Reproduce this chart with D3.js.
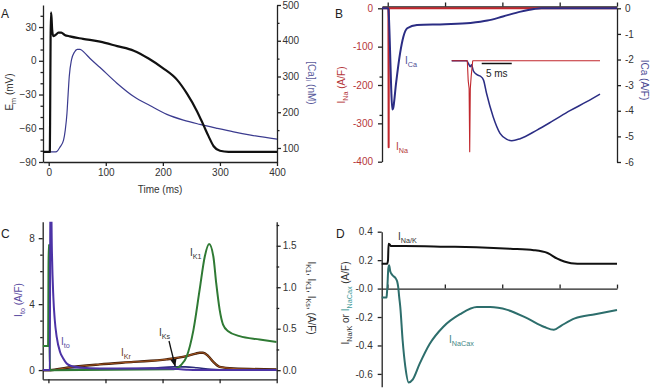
<!DOCTYPE html>
<html>
<head>
<meta charset="utf-8">
<script src="https://cdn.jsdelivr.net/npm/d3@7"></script>
<style>
  body { margin: 0; background: #fff; }
  svg { display: block; font-family: "Liberation Sans", Arial, sans-serif; }
  .axis path, .axis line { stroke: #222; stroke-width: 1.3; }
  .axis text { font-size: 10px; fill: #333; font-family: "Liberation Sans", Arial, sans-serif; }
</style>
</head>
<body>
<svg width="650" height="388"></svg>
<script>
// ---- data: [time (ms), value] ----
var timeTicks = [0, 100, 200, 300, 400];

// panel A
var emTrace = [[-10,-81],[2,-81],[2.6,-40],[3.3,20],[4,43],[5,38],[6,28],[8,22],[12,23],[17,25],[22,25],[28,23],[37,21.7],[60,19.5],[90,17],[120,13],[149,9],[175,2],[200,-6.5],[225,-17],[242,-29],[260,-45],[271,-57],[280,-67],[289,-76],[300,-80],[315,-81],[400,-81]];
var caTrace = [[-10,89],[10,89],[14,90],[20,103],[26,122],[29,150],[32,197],[34,250],[36,300],[40,347],[45,368],[50,376],[55,376],[63,366],[72,351],[90,325],[119,282],[149,244],[178,218],[207,194],[236,178],[265,166],[295,155],[324,145],[354,136],[400,125]];
var emTicks = [-90, -60, -30, 0, 30];
var emMinor = [-80, -70, -50, -40, -20, -10, 10, 20, 40];
var caTicks = [100, 200, 300, 400, 500];
var caMinor = [150, 250, 350, 450];

// panel B
var inaTrace = [[-10,0],[1.2,0],[1.6,-362],[2.0,0],[400,0]];
var icaTrace = [[-10,0],[1,0],[2,-0.3],[4,-1.6],[6,-3.1],[8,-3.95],[9.5,-3.9],[14.5,-2.93],[21.5,-1.76],[27.3,-1.11],[34,-0.78],[51,-0.65],[100,-0.62],[144,-0.57],[174,-0.48],[201,-0.32],[232,-0.13],[255,-0.03],[268,0],[400,0]];
var insetIna = [[0,0],[2.6,0],[2.75,-80],[2.9,-110],[3.0,-360],[3.1,-110],[3.25,-60],[3.5,0],[24.7,0]];
var insetIca = [[0,0],[2.5,0],[2.8,-0.15],[3.1,-0.3],[3.3,-0.2],[3.6,-0.5],[4.2,-0.7],[4.8,-0.78],[5.3,-0.97],[5.8,-1.63],[6.9,-2.8],[8.05,-3.63],[9.2,-3.93],[10,-4.0],[11.4,-3.9],[14.2,-3.47],[16.9,-3.0],[19.7,-2.5],[22.5,-2.05],[24.7,-1.67]];
var naTicks = [-400, -300, -200, -100, 0];
var naMinor = [-178, -278];
var icaTicks = [-6, -5, -4, -3, -2, -1, 0];

// panel C
var itoTrace = [[-10,0],[2.5,0],[3.5,12],[4.2,12],[6,7.5],[8.7,4.4],[11,3.1],[14.6,2.0],[20.4,1.1],[26,0.7],[32,0.4],[40,0.25],[55,0.16],[90,0.1],[150,0.1],[207,0.1],[242,0.02],[260,0],[400,0]];
var ik1Trace = [[-10,0.29],[-0.5,0.29],[0,1.0],[0.4,1.51],[1.2,1.51],[2.0,0.3],[3,0],[220,0.01],[224,0.02],[232,0.06],[242,0.16],[254,0.48],[265,0.97],[274,1.37],[281.6,1.52],[289,1.37],[294,1.05],[300,0.73],[306,0.55],[315,0.47],[335,0.41],[370,0.37],[400,0.34]];
var ikrTrace = [[-10,0],[3,0],[32,0.03],[90,0.07],[149,0.1],[207,0.13],[242,0.17],[258,0.2],[265,0.21],[271,0.21],[280,0.17],[289,0.1],[300,0.04],[324,0.02],[400,0.01]];
var iksTrace = [[-10,0],[5,0],[30,0.01],[100,0.015],[180,0.025],[220,0.04],[240,0.04],[260,0.03],[285,0.01],[300,0.005],[400,0]];
var itoTicks = [0, 4, 8];
var itoMinor = [1, 2, 3, 5, 6, 7];
var kTicks = [0, 0.5, 1, 1.5];
var kMinor = [0.25, 0.75, 1.25, 1.75];

// panel D
var inakTrace = [[-10,0.175],[-0.5,0.175],[1,0.2],[2,0.315],[4,0.31],[6,0.3],[30,0.3],[100,0.295],[155,0.29],[214,0.28],[255,0.27],[279,0.25],[296,0.21],[308,0.19],[320,0.178],[331,0.175],[400,0.175]];
var inacaxTrace = [[-10,-0.063],[-1.5,-0.063],[-1,-0.04],[0,0.02],[1.5,0.14],[2.9,0.164],[5,0.12],[8.8,0.094],[14.7,0.07],[17,0.05],[18.8,0.01],[20.5,-0.06],[22.4,-0.13],[26.5,-0.365],[31.2,-0.55],[37,-0.66],[44,-0.64],[56,-0.53],[73.5,-0.39],[97,-0.27],[126.5,-0.18],[156,-0.13],[179,-0.13],[209,-0.15],[244,-0.21],[273.5,-0.27],[290,-0.29],[303,-0.26],[326.5,-0.21],[362,-0.18],[400,-0.15]];
var dTicks = [-0.6, -0.4, -0.2, 0, 0.2, 0.4];

var svg = d3.select("svg");

// helpers
function mkLine(x, y, curve) {
  return d3.line().x(function (d) { return x(d[0]); }).y(function (d) { return y(d[1]); })
    .curve(curve || d3.curveMonotoneX);
}

function drawTrace(parent, data, x, y, color, width, curve) {
  return parent.append("path")
    .datum(data)
    .attr("d", mkLine(x, y, curve))
    .attr("fill", "none")
    .attr("stroke", color)
    .attr("stroke-width", width)
    .attr("stroke-linejoin", "round");
}

function drawAxis(axis, tx, ty) {
  return svg.append("g").attr("class", "axis")
    .attr("transform", "translate(" + tx + "," + ty + ")")
    .call(axis);
}

function minorTicks(axis, tx, ty) {
  var g = drawAxis(axis.tickSize(2.5).tickFormat(""), tx, ty);
  g.select(".domain").remove();
  return g;
}

// text with subscripts: parts = [[text, isSub, color]]
function label(x, y, parts, opts) {
  opts = opts || {};
  var size = opts.size || 10;
  var t = svg.append("text")
    .attr("x", x).attr("y", y)
    .attr("font-size", size)
    .attr("fill", opts.color || "#222")
    .attr("text-anchor", opts.anchor || "start");
  if (opts.rotate) t.attr("transform", "rotate(" + opts.rotate + "," + x + "," + y + ")");
  var shift = 0;
  parts.forEach(function (p) {
    var sp = t.append("tspan").text(p[0]);
    var want = p[1] ? 2.5 : 0;
    if (want !== shift) { sp.attr("dy", want - shift); shift = want; }
    if (p[1]) sp.attr("font-size", size * 0.72);
    if (p[2]) sp.attr("fill", p[2]);
  });
  return t;
}

// ---------------- Panel A ----------------
var xA = d3.scaleLinear().domain([-10, 400]).range([43, 277]);
var yEm = d3.scaleLinear().domain([-90, 49.6]).range([162, 5]);
var yCai = d3.scaleLinear().domain([60.8, 500]).range([162, 5]);

drawAxis(d3.axisBottom(xA).tickValues(timeTicks).tickSize(4).tickSizeOuter(0).tickPadding(3), 0, 162);
drawAxis(d3.axisLeft(yEm).tickValues(emTicks).tickSize(4).tickSizeOuter(0).tickPadding(2.5), 43, 0);
minorTicks(d3.axisLeft(yEm).tickValues(emMinor), 43, 0);
drawAxis(d3.axisRight(yCai).tickValues(caTicks).tickSize(4).tickSizeOuter(0).tickPadding(1.5), 277, 0);
minorTicks(d3.axisRight(yCai).tickValues(caMinor), 277, 0);

drawTrace(svg, caTrace, xA, yCai, "#3b3b8f", 1.2);
drawTrace(svg, emTrace, xA, yEm, "#111", 2.2);

label(1, 18, [["A"]], { size: 12 });
label(160, 193, [["Time (ms)"]], { anchor: "middle", color: "#333" });
label(13, 92, [["E"], ["m", true], [" (mV)"]], { anchor: "middle", rotate: -90, color: "#333" });
label(308, 83, [["[Ca]"], ["i", true], [" (nM)"]], { anchor: "middle", rotate: 90, color: "#5b5b9b" });

// ---------------- Panel B ----------------
var xB = d3.scaleLinear().domain([-10, 400]).range([382, 617]);
var yNa = d3.scaleLinear().domain([-400, 0]).range([161.7, 8.3]);
var yCa = d3.scaleLinear().domain([-6, 0]).range([162, 8.3]);

drawAxis(d3.axisTop(xB).tickValues(timeTicks).tickSize(4).tickSizeOuter(0).tickFormat(""), 0, 6.5);
var bl = drawAxis(d3.axisLeft(yNa).tickValues(naTicks).tickSize(4).tickSizeOuter(0).tickPadding(5)
  .tickFormat(function (d) { return String(d); }), 382, 0);
bl.selectAll("text").style("fill", "#b5373a");
minorTicks(d3.axisLeft(yNa).tickValues(naMinor), 382, 0);
drawAxis(d3.axisRight(yCa).tickValues(icaTicks).tickSize(4).tickSizeOuter(0).tickPadding(4)
  .tickFormat(function (d) { return String(d); }), 617, 0);

drawTrace(svg, inaTrace, xB, yNa, "#c1272d", 2, d3.curveLinear);
drawTrace(svg, icaTrace, xB, yCa, "#2b2d84", 2);

// inset (expanded time base)
var xIn = d3.scaleLinear().domain([0, 24.7]).range([451.7, 600]);
var yInCa = d3.scaleLinear().domain([-4, 0]).range([140.7, 60.7]);
var yInNa = d3.scaleLinear().domain([-360, 0]).range([151.7, 60.7]);
drawTrace(svg, insetIca, xIn, yInCa, "#2b2d84", 1.5);
drawTrace(svg, insetIna, xIn, yInNa, "#c1272d", 1.1, d3.curveLinear);
svg.append("line")
  .attr("x1", xIn(5)).attr("x2", xIn(10))
  .attr("y1", 63.5).attr("y2", 63.5)
  .attr("stroke", "#111").attr("stroke-width", 1.5);
label((xIn(5) + xIn(10)) / 2, 77, [["5 ms"]], { anchor: "middle", color: "#222" });

label(335, 18, [["B"]], { size: 12 });
label(405, 64, [["I"], ["Ca", true]], { color: "#4b4b93" });
label(396, 150, [["I"], ["Na", true]], { color: "#b5373a" });
label(345, 85, [["I"], ["Na", true], [" (A/F)"]], { anchor: "middle", rotate: -90, color: "#b5373a" });
label(641, 80, [["ICa (A/F)"]], { anchor: "middle", rotate: 90, color: "#4b4b93" });

// ---------------- Panel C ----------------
var xC = d3.scaleLinear().domain([-10, 400]).range([42.7, 276.7]);
var yIto = d3.scaleLinear().domain([-0.56, 9]).range([379.3, 221.7]);
var yK = d3.scaleLinear().domain([-0.11, 1.79]).range([379.3, 221.7]);

svg.append("clipPath").attr("id", "clipC")
  .append("rect").attr("x", 42.7).attr("y", 221.7).attr("width", 234).attr("height", 157.6);

drawAxis(d3.axisBottom(xC).tickValues(timeTicks).tickSize(4).tickSizeOuter(0).tickFormat(""), 0, 379.3);
drawAxis(d3.axisLeft(yIto).tickValues(itoTicks).tickSize(4).tickSizeOuter(0).tickPadding(4), 42.7, 0);
minorTicks(d3.axisLeft(yIto).tickValues(itoMinor), 42.7, 0);
drawAxis(d3.axisRight(yK).tickValues(kTicks).tickSize(4).tickSizeOuter(0).tickPadding(2)
  .tickFormat(d3.format(".1f")), 276.7, 0);
minorTicks(d3.axisRight(yK).tickValues(kMinor), 276.7, 0);

var gC = svg.append("g").attr("clip-path", "url(#clipC)");
drawTrace(gC, iksTrace, xC, yK, "#2a2a7a", 1.6);
drawTrace(gC, ikrTrace, xC, yK, "#3a1a08", 2.4);
drawTrace(gC, ikrTrace, xC, yK, "#a0521e", 1.1);
drawTrace(gC, ik1Trace, xC, yK, "#2f7a34", 2);
drawTrace(gC, itoTrace, xC, yIto, "#4c33a6", 2);

label(1, 238, [["C"]], { size: 12 });
label(61, 345, [["I"], ["to", true]], { color: "#5a4aa0" });
label(121, 356, [["I"], ["Kr", true]], { color: "#6b3a1e" });
label(159, 336, [["I"], ["Ks", true]], { color: "#333" });
label(190, 256, [["I"], ["K1", true]], { color: "#333" });
label(22, 300, [["I"], ["to", true], [" (A/F)"]], { anchor: "middle", rotate: -90, color: "#5a4aa0" });
label(308, 298, [["I"], ["K1", true], [", I"], ["K1", true], [", I"], ["Ks", true], [", (A/F)"]],
  { anchor: "middle", rotate: 90, color: "#333" });

// arrow pointing at I_Ks
svg.append("defs").append("marker")
  .attr("id", "arrowHead").attr("viewBox", "0 0 10 10")
  .attr("refX", 9).attr("refY", 5)
  .attr("markerWidth", 6).attr("markerHeight", 6)
  .attr("orient", "auto")
  .append("path").attr("d", "M0,1 L10,5 L0,9 z").attr("fill", "#111");
svg.append("line")
  .attr("x1", 169).attr("y1", 341).attr("x2", xC(222)).attr("y2", yK(0.05))
  .attr("stroke", "#111").attr("stroke-width", 1.3)
  .attr("marker-end", "url(#arrowHead)");

// ---------------- Panel D ----------------
var xD = d3.scaleLinear().domain([-10, 400]).range([381.7, 617]);
var yD = d3.scaleLinear().domain([-0.69, 0.4]).range([386.7, 231.7]);

drawAxis(d3.axisTop(xD).tickValues(timeTicks).tickSize(4).tickSizeOuter(0).tickFormat(""), 0, yD(0));
drawAxis(d3.axisLeft(yD).tickValues(dTicks).tickSize(4).tickSizeOuter(0).tickPadding(5)
  .tickFormat(function (d) { return d === 0 ? "-0.0" : d.toFixed(1); }), 381.7, 0);

drawTrace(svg, inacaxTrace, xD, yD, "#2d6e6c", 2);
drawTrace(svg, inakTrace, xD, yD, "#111", 2);

label(336, 238, [["D"]], { size: 12 });
label(398, 240, [["I"], ["Na/K", true]], { color: "#333" });
label(449, 343, [["I"], ["NaCax", true]], { color: "#3f8785" });
label(349, 303, [["I"], ["Na/K", true], [" or "], ["I", false, "#3f9a98"], ["NaCax", true, "#3f9a98"], [" (A/F)", false, "#333"]],
  { anchor: "middle", rotate: -90, color: "#333" });
</script>
</body>
</html>
